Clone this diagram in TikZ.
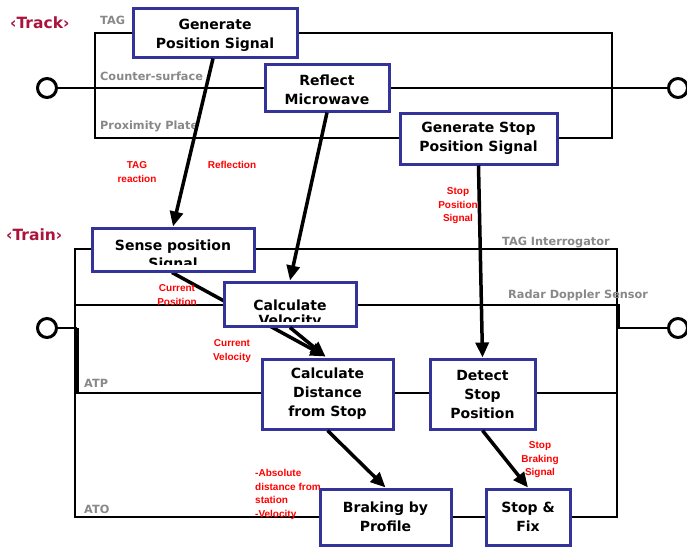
\documentclass[tikz,border=0pt]{standalone}
\usepackage{fontspec}
\setmainfont{DejaVu Sans}
\newfontfamily\redfont{Liberation Sans}
\usetikzlibrary{arrows.meta,backgrounds}
\definecolor{boxblue}{RGB}{51,51,153}
\definecolor{lblgray}{RGB}{136,136,136}
\definecolor{titlered}{RGB}{170,20,60}
\begin{document}
\begin{tikzpicture}[x=1pt,y=-1pt,
  box/.style={draw=boxblue, line width=3pt, fill=white, inner sep=0pt, align=center,
              font=\fontsize{14}{19}\selectfont\bfseries},
  boxtext/.style={inner sep=0pt, font=\fontsize{14}{19}\selectfont\bfseries},
  wire/.style={line width=1.6pt, black},
  arr/.style={line width=3.5pt, -{Triangle[length=15pt,width=13pt]}},
  glabel/.style={text=lblgray, font=\fontsize{11.3}{13}\selectfont\bfseries, inner sep=0pt, anchor=base west},
  rlabel/.style={text=red, font=\redfont\bfseries\fontsize{10}{13.5}\selectfont, align=center, inner sep=0pt},
  ttl/.style={text=titlered, font=\fontsize{15.5}{17}\selectfont\bfseries, inner sep=0pt, anchor=base west},
  term/.style={circle, draw, line width=3pt, fill=white, minimum size=19pt, inner sep=0pt}]
\useasboundingbox (0,0) rectangle (687,546);

% titles and labels
\node[ttl] (ttrack) at (10,28) {‹Track›};
\node[ttl] (ttrain) at (6,240) {‹Train›};
\node[glabel] (lTAG) at (100,24) {TAG};
\node[glabel] (lCS) at (100,80) {Counter-surface};
\node[glabel] (lPP) at (100,129) {Proximity Plate};
\node[glabel] (lTI) at (502,245) {TAG Interrogator};
\node[glabel] (lRD) at (508,298) {Radar Doppler Sensor};
\node[glabel] (lATP) at (84,387) {ATP};
\node[glabel] (lATO) at (84,513) {ATO};

% terminals
\node[term] (t1) at (47,88) {};
\node[term] (t2) at (678,88) {};
\node[term] (t3) at (47,328) {};
\node[term] (t4) at (678,328) {};

% boxes
\node[box, minimum width=164pt, minimum height=49pt] (gps) at (215,32.5) {\rule{0pt}{17pt}Generate\\Position Signal};
\node[box, minimum width=124pt, minimum height=47pt] (rm) at (327,87.5) {\rule{0pt}{16pt}Reflect\\Microwave};
\node[box, minimum width=157pt, minimum height=51pt] (gsps) at (478.5,138.5) {Generate Stop\\Position Signal};
\node[box, minimum width=162pt, minimum height=43pt] (sense) at (173,249.5) {};
\node[box, minimum width=132pt, minimum height=44pt] (cv) at (290,304) {};
\node[box, minimum width=131pt, minimum height=70pt] (cd) at (327.5,394) {Calculate\\Distance\\from Stop};
\node[box, minimum width=105pt, minimum height=70pt] (ds) at (482.5,394) {Detect\\Stop\\Position};
\node[box, minimum width=131pt, minimum height=56pt] (bp) at (385.5,517) {Braking by\\Profile};
\node[box, minimum width=84pt, minimum height=56pt] (sf) at (528,517) {Stop \&\\Fix};

% clipped texts
\begin{scope}
  \clip ([shift={(2pt,-2pt)}]sense.north west) rectangle ([shift={(-2pt,8pt)}]sense.south east);
  \node[boxtext, anchor=base] (sense1) at ([yshift=-0.5pt]sense.center) {Sense position};
  \node[boxtext, anchor=base] (sense2) at ([yshift=-18.5pt]sense.center) {Signal};
\end{scope}
\begin{scope}
  \clip ([shift={(2pt,-2pt)}]cv.north west) rectangle ([shift={(-2pt,6pt)}]cv.south east);
  \node[boxtext, anchor=base] (cv1) at ([yshift=-6pt]cv.center) {Calculate};
  \node[boxtext, anchor=base] (cv2) at ([yshift=-21pt]cv.center) {Velocity};
\end{scope}

% red labels
\node[rlabel] (rTag) at (137,172) {TAG\\reaction};
\node[rlabel] (rRef) at (232,165) {Reflection};
\node[rlabel] (rSPS) at (458,206) {Stop\\Position\\Signal};
\node[rlabel] (rCP) at (177,295) {Current\\Position};
\node[rlabel] (rCV) at (232,351) {Current\\Velocity};
\node[rlabel, align=left, anchor=west] (rAbs) at (255,494.5) {-Absolute\\distance from\\station\\-Velocity};
\node[rlabel] (rSBS) at (540,460) {Stop\\Braking\\Signal};

% wires (behind)
\begin{scope}[on background layer]
  \draw[wire] (95,33) rectangle (612,138);
  \draw[wire] (t1) -- (t2);
  \draw[wire] (75,249) rectangle (617,517);
  \draw[wire] (75,305) -- (619,305) -- (619,328);
  \draw[wire] (75,393) -- (617,393);
  \draw[wire] (t3) -- (77,328);
  \draw[line width=3pt] (77,328) -- (77,393);
  \draw[wire] (617,328) -- (t4);
  \draw[arr] ([xshift=-1pt]sense.south) -- ([xshift=-2pt,yshift=1pt]cd.north);
\end{scope}

% arrows
\draw[arr] ([xshift=-2pt]gps.south) -- (sense.north);
\draw[arr] (rm.south) -- (cv.north);
\draw[arr] (gsps.south) -- (ds.north);
\draw[arr] (cv.south) -- ([xshift=-2pt,yshift=1pt]cd.north);
\draw[arr] (cd.south) -- (bp.north);
\draw[arr] (ds.south) -- (sf.north);
\end{tikzpicture}
\end{document}
